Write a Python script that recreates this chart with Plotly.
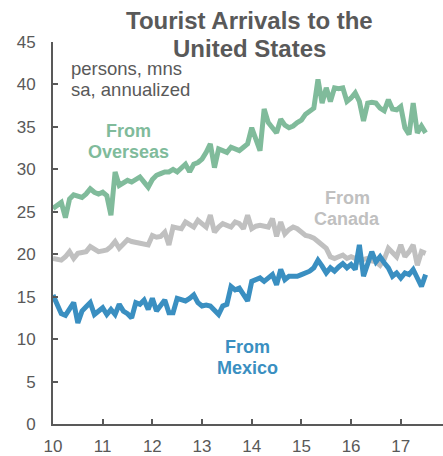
import plotly.graph_objects as go

overseas = [25.4, 25.7, 26.1, 24.3, 26.5, 27.0, 26.8, 26.7, 27.1, 27.7, 27.3, 27.1,
            27.3, 26.9, 24.6, 29.7, 28.1, 28.4, 28.7, 28.5, 28.8, 29.1, 28.5, 27.9,
            28.8, 29.3, 29.5, 29.7, 29.7, 30.0, 29.7, 30.1, 30.6, 29.7, 30.6, 30.8,
            31.2, 32.0, 33.0, 30.2, 32.4, 32.2, 32.0, 32.6, 32.4, 32.2, 32.6, 33.0,
            34.9, 33.5, 32.2, 37.1, 35.5, 34.9, 34.3, 35.9, 35.2, 34.9, 35.1, 35.5,
            35.8, 36.5, 36.9, 37.2, 40.6, 37.8, 39.6, 38.0, 39.6, 39.5, 39.6, 38.0,
            38.4, 39.0, 38.0, 35.7, 37.8, 37.9, 37.8, 37.2, 36.9, 38.2, 37.1, 37.0,
            37.4, 34.9, 34.1, 37.8, 34.3, 35.1, 34.3]

canada = [19.5, 19.4, 19.3, 19.7, 20.3, 19.5, 20.1, 20.2, 20.3, 20.9, 20.6, 20.3,
          20.4, 20.5, 20.9, 21.5, 20.7, 21.2, 21.7, 21.5, 21.4, 21.3, 21.2, 21.1,
          22.2, 22.0, 22.1, 22.6, 21.1, 23.2, 23.1, 23.0, 23.8, 23.5, 23.2, 24.0,
          23.6, 23.2, 24.6, 22.6, 23.2, 23.6, 23.4, 23.2, 23.8, 23.6, 23.0, 24.6,
          23.0, 23.3, 23.4, 23.3, 23.2, 24.2, 22.1, 23.8, 22.4, 22.9, 23.2, 23.0,
          22.6, 22.2, 22.1, 21.9, 21.5, 21.1, 20.7, 19.7, 19.5, 19.7, 19.9, 19.5,
          19.7, 19.5, 19.1, 19.4, 19.5, 19.2, 19.1, 18.7, 19.4, 20.7, 20.1, 19.7,
          21.1, 19.7, 20.3, 21.1, 18.7, 20.3, 20.1]

mexico = [15.2, 14.0, 13.0, 12.8, 13.5, 14.3, 11.9, 13.3, 13.8, 14.3, 12.9, 13.4,
          13.7, 12.9, 13.5, 12.9, 14.1, 13.3, 13.0, 12.5, 14.3, 14.1, 14.6, 13.5,
          14.8, 13.3, 14.0, 14.6, 13.1, 13.1, 14.8, 14.6, 14.5, 14.8, 15.2, 14.3,
          13.9, 14.0, 13.9, 13.4, 12.9, 13.9, 14.1, 16.2, 15.8, 16.0, 15.2, 14.5,
          16.8, 17.0, 17.2, 16.8, 17.2, 17.6, 16.4, 18.2, 17.0, 17.4, 17.4, 17.4,
          17.6, 17.8, 18.0, 18.4, 19.3, 18.6, 17.8, 18.4, 18.0, 18.5, 18.9, 18.4,
          18.8, 18.2, 21.1, 17.4, 18.9, 20.3, 19.1, 19.7, 19.0, 18.4, 17.4, 17.8,
          17.2, 17.8, 17.6, 18.2, 17.2, 16.2, 17.6]

start_year = 10
dates = [start_year + i / 12 for i in range(len(overseas))]

x_tickvals = [10, 11, 12, 13, 14, 15, 16, 17]
x_ticktext = ["10", "11", "12", "13", "14", "15", "16", "17"]
y_tickvals = [0, 5, 10, 15, 20, 25, 30, 35, 40, 45]

GREEN = "#80bb9b"
GRAY = "#c0c0c0"
BLUE = "#3a8fc1"
TEXT = "#595959"
FONT = "Arial, 'Liberation Sans', sans-serif"

fig = go.Figure()
fig.add_trace(go.Scatter(x=dates, y=canada, mode="lines",
                         line=dict(color=GRAY, width=5), hoverinfo="skip"))
fig.add_trace(go.Scatter(x=dates, y=mexico, mode="lines",
                         line=dict(color=BLUE, width=5), hoverinfo="skip"))
fig.add_trace(go.Scatter(x=dates, y=overseas, mode="lines",
                         line=dict(color=GREEN, width=5), hoverinfo="skip"))

fig.update_layout(
    width=443, height=456,
    margin=dict(l=53, r=0, t=42, b=29),
    paper_bgcolor="white", plot_bgcolor="white",
    showlegend=False,
    font=dict(family=FONT, size=17, color=TEXT),
    xaxis=dict(range=[10, 17.85], tickvals=x_tickvals, ticktext=x_ticktext,
               showgrid=False, zeroline=False, showline=True, linecolor=TEXT,
               linewidth=2, ticks="inside", ticklen=5, tickwidth=1.5,
               tickcolor=TEXT, ticklabelstandoff=6,
               tickfont=dict(size=17, color=TEXT, family=FONT)),
    yaxis=dict(range=[0, 45], tickvals=y_tickvals,
               showgrid=False, zeroline=False, showline=True, linecolor=TEXT,
               linewidth=2, ticks="inside", ticklen=5, tickwidth=1.5,
               tickcolor=TEXT, ticklabelstandoff=12,
               tickfont=dict(size=17, color=TEXT, family=FONT)),
)


def label(text, x, y, color, size, bold=True, anchor="center", ref="data"):
    t = f"<b>{text}</b>" if bold else text
    xr, yr = ("x", "y") if ref == "data" else ("paper", "paper")
    fig.add_annotation(text=t, xref=xr, yref=yr, x=x, y=y,
                       xanchor=anchor, yanchor="middle", showarrow=False,
                       font=dict(size=size, color=color, family=FONT))


# title (two lines, placed relative to the plot frame)
label("Tourist Arrivals to the", 0.5026, 1.0558, TEXT, 24, ref="paper")
label("United States", 0.5026, 0.9818, TEXT, 24, ref="paper")
# units note
label("persons, mns", 10.32, 41.9, TEXT, 18.5, bold=False, anchor="left")
label("sa, annualized", 10.32, 39.45, TEXT, 18.5, bold=False, anchor="left")
# series labels
label("From", 11.515, 34.48, GREEN, 18)
label("Overseas", 11.515, 32.09, GREEN, 18)
label("From", 15.925, 26.57, GRAY, 18)
label("Canada", 15.925, 24.2, GRAY, 18)
label("From", 13.913, 9.04, BLUE, 18)
label("Mexico", 13.913, 6.57, BLUE, 18)

fig.write_html("out.html", config={"displayModeBar": False},
               post_script="document.body.style.margin='0px';")
